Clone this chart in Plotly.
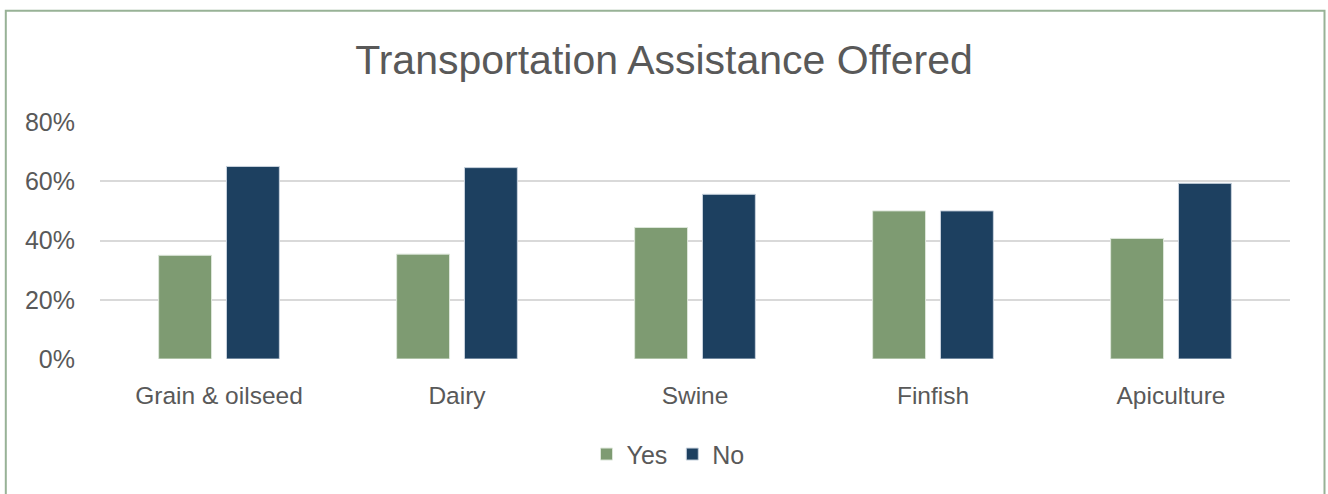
import plotly.graph_objects as go

categories = ["Grain & oilseed", "Dairy", "Swine", "Finfish", "Apiculture"]
yes_vals = [0.35, 0.354, 0.444, 0.50, 0.407]
no_vals = [0.65, 0.646, 0.556, 0.50, 0.593]
tick_vals = [0, 0.2, 0.4, 0.6, 0.8]
tick_text = ["0%", "20%", "40%", "60%", "80%"]

GREEN = "#7E9B72"
NAVY = "#1D4060"
TEXT = "#595959"
FONT = "Liberation Sans, Arial, sans-serif"

fig = go.Figure()
fig.add_trace(go.Bar(name="Yes", x=categories, y=yes_vals, marker=dict(color=GREEN, line=dict(color="#DDE6DA", width=1))))
fig.add_trace(go.Bar(name="No", x=categories, y=no_vals, marker=dict(color=NAVY, line=dict(color="#C9D3DE", width=1))))

W, H = 1328, 494
L, R, T, B = 100, 38, 122, 134.5
pw, ph = W - L - R, H - T - B

def px_x(p):
    return (p - L) / pw

def px_y(p):
    return (H - B - p) / ph

fig.update_layout(
    width=W, height=H,
    margin=dict(l=L, r=R, t=T, b=B),
    paper_bgcolor="white", plot_bgcolor="white",
    barmode="group", bargap=0.43, bargroupgap=0.22,
    font=dict(family=FONT, color=TEXT, size=24),
    title=dict(text="Transportation Assistance Offered", x=0.5, xanchor="center",
               y=1 - 60 / H, yanchor="middle", font=dict(size=41, color=TEXT, family=FONT)),
    xaxis=dict(showgrid=False, showline=False, ticks="", tickfont=dict(size=24.5, color=TEXT),
               ticklabelstandoff=19),
    yaxis=dict(range=[0, 0.8], tickvals=tick_vals, ticktext=tick_text, showgrid=True,
               gridcolor="#D9D9D9", gridwidth=2, zeroline=False, showline=False, ticks="",
               tickfont=dict(size=25, color=TEXT), ticklabelstandoff=24),
    legend=dict(orientation="h", x=px_x(668), xanchor="center", y=px_y(455), yanchor="middle",
                font=dict(size=25, color=TEXT), itemwidth=30, traceorder="normal"),
    shapes=[dict(type="rect", xref="paper", yref="paper",
                 x0=px_x(5.8), x1=px_x(1324.5), y0=px_y(520), y1=px_y(10.5),
                 line=dict(color="#98B296", width=2), fillcolor="rgba(0,0,0,0)", layer="below")],
)

fig.write_html("out.html")
